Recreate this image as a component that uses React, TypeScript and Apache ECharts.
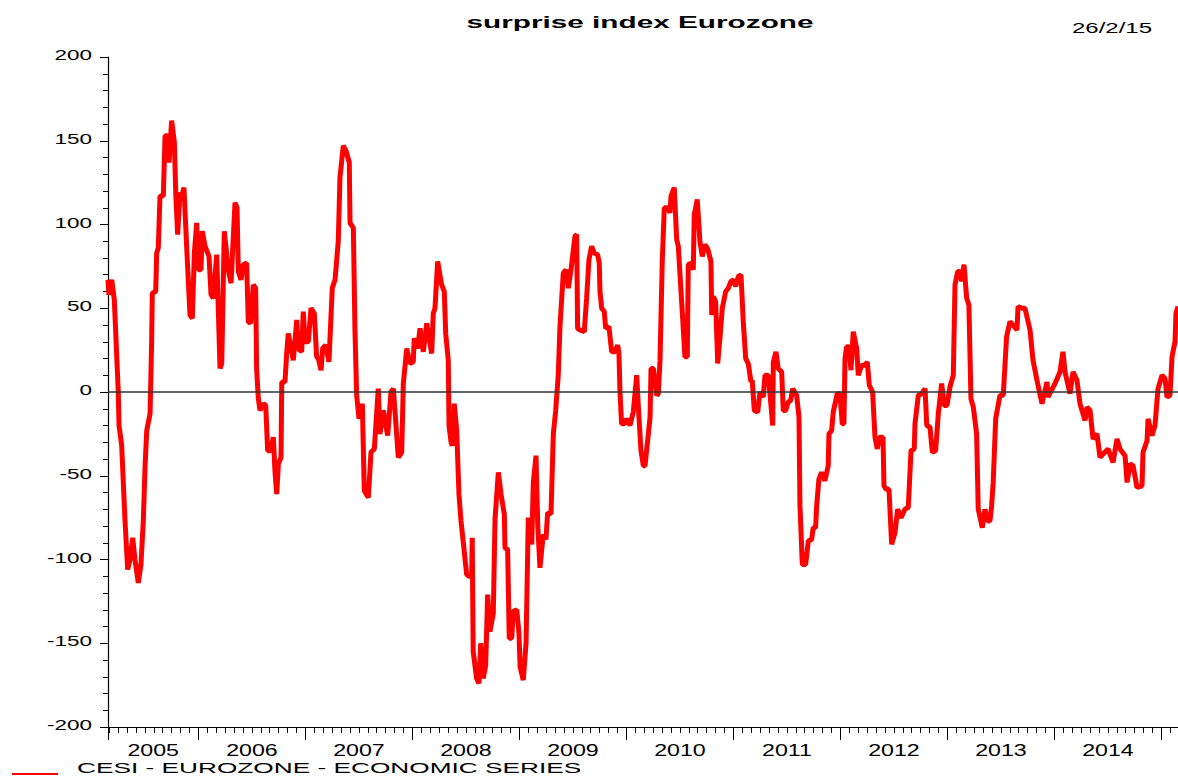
import React, { useEffect, useRef } from "react";
import * as echarts from "echarts";

const TITLE = "surprise index Eurozone";
const DATE_STAMP = "26/2/15";
const SERIES_NAME = "CESI - EUROZONE - ECONOMIC SERIES";

// axis range in decimal years: 26 Feb 2005 .. 26 Feb 2015
const X_MIN = 2005.155;
const X_MAX = 2015.155;
const yearLabels = [2005, 2006, 2007, 2008, 2009, 2010, 2011, 2012, 2013, 2014];
const yTickValues = [200, 150, 100, 50, 0, -50, -100, -150, -200];
const yTickLabels = ["200", "150", "100", "50", "0", "-50", "-100", "-150", "-200"];

// [decimal year, index value]
const cesi2005: [number, number][] = [
  [2005.155, 67], [2005.164, 58], [2005.19, 67], [2005.214, 55], [2005.251, 0], [2005.258, -20],
  [2005.283, -32], [2005.314, -77], [2005.339, -106], [2005.361, -100], [2005.386, -87], [2005.407, -100],
  [2005.438, -114], [2005.463, -103], [2005.485, -77], [2005.501, -45], [2005.517, -23], [2005.548, -13],
  [2005.563, 30], [2005.569, 59], [2005.601, 60], [2005.61, 83], [2005.625, 86], [2005.641, 117],
  [2005.672, 117], [2005.688, 153], [2005.713, 153], [2005.725, 137], [2005.75, 162], [2005.775, 149],
  [2005.788, 119], [2005.806, 94], [2005.828, 119], [2005.844, 117], [2005.865, 122], [2005.89, 87],
  [2005.921, 46], [2005.943, 44], [2005.962, 83], [2005.984, 101], [2005.999, 73],
];
const cesi2006: [number, number][] = [
  [2006.024, 73], [2006.036, 96], [2006.062, 87], [2006.099, 81], [2006.118, 58], [2006.139, 56],
  [2006.171, 82], [2006.202, 14], [2006.218, 17], [2006.242, 96], [2006.279, 73], [2006.305, 65],
  [2006.342, 113], [2006.361, 110], [2006.373, 72], [2006.398, 67], [2006.419, 76], [2006.451, 77],
  [2006.466, 42], [2006.488, 41], [2006.513, 64], [2006.535, 62], [2006.544, 14], [2006.56, -4],
  [2006.576, -11], [2006.606, -7], [2006.629, -8], [2006.647, -35], [2006.675, -35], [2006.7, -27],
  [2006.716, -48], [2006.732, -61], [2006.747, -43], [2006.772, -39], [2006.779, 6], [2006.809, 6],
  [2006.825, 23], [2006.84, 35], [2006.887, 19], [2006.919, 43], [2006.933, 26], [2006.965, 24],
  [2006.98, 48], [2006.996, 30],
];
const cesi2007: [number, number][] = [
  [2007.027, 30], [2007.052, 50], [2007.083, 47], [2007.105, 21], [2007.12, 20], [2007.146, 13],
  [2007.161, 26], [2007.189, 28], [2007.22, 18], [2007.251, 62], [2007.277, 67], [2007.307, 90],
  [2007.323, 128], [2007.354, 147], [2007.379, 144], [2007.41, 137], [2007.417, 101], [2007.448, 98],
  [2007.463, 37], [2007.479, -2], [2007.501, -16], [2007.532, -7], [2007.55, -59], [2007.588, -63],
  [2007.613, -36], [2007.644, -34], [2007.681, 2], [2007.697, -25], [2007.728, -11], [2007.769, -26],
  [2007.8, 0], [2007.822, 2], [2007.868, -39], [2007.9, -36], [2007.915, 5], [2007.947, 26],
  [2007.977, 17],
];
const cesi2008: [number, number][] = [
  [2008.008, 18], [2008.017, 32], [2008.049, 26], [2008.071, 38], [2008.102, 24], [2008.134, 41],
  [2008.18, 23], [2008.195, 47], [2008.211, 50], [2008.236, 78], [2008.273, 64], [2008.298, 60],
  [2008.311, 35], [2008.335, 19], [2008.342, -20], [2008.361, -30], [2008.373, -32], [2008.391, -7],
  [2008.414, -23], [2008.435, -61], [2008.454, -77], [2008.476, -90], [2008.507, -109], [2008.528, -110],
  [2008.554, -110], [2008.559, -87], [2008.568, -155], [2008.6, -171], [2008.622, -174], [2008.638, -150],
  [2008.662, -171], [2008.685, -163], [2008.703, -121], [2008.725, -143], [2008.756, -132], [2008.772, -76],
  [2008.803, -48], [2008.828, -61], [2008.859, -73], [2008.865, -93], [2008.89, -94], [2008.905, -147],
  [2008.928, -147], [2008.943, -131], [2008.975, -130], [2008.996, -144],
];
const cesi2009: [number, number][] = [
  [2009.006, -164], [2009.036, -172], [2009.062, -150], [2009.083, -75], [2009.115, -91], [2009.13, -54],
  [2009.155, -38], [2009.171, -79], [2009.192, -105], [2009.223, -85], [2009.248, -88], [2009.264, -72],
  [2009.295, -73], [2009.317, -25], [2009.339, -11], [2009.363, 10], [2009.379, 39], [2009.41, 71],
  [2009.435, 73], [2009.457, 62], [2009.482, 73], [2009.519, 93], [2009.535, 94], [2009.544, 38],
  [2009.566, 37], [2009.606, 36], [2009.628, 56], [2009.65, 79], [2009.675, 87], [2009.699, 83],
  [2009.731, 82], [2009.746, 77], [2009.753, 60], [2009.769, 50], [2009.793, 48], [2009.806, 38],
  [2009.837, 39], [2009.862, 24], [2009.893, 24], [2009.918, 28], [2009.93, 23], [2009.94, 0],
  [2009.955, -19], [2009.98, -19],
];
const cesi2010: [number, number][] = [
  [2010.003, -16], [2010.033, -20], [2010.064, -12], [2010.096, 10], [2010.111, -8], [2010.136, -35],
  [2010.158, -44], [2010.174, -44], [2010.205, -25], [2010.221, -15], [2010.23, 14], [2010.252, 14],
  [2010.283, -2], [2010.298, -1], [2010.314, 19], [2010.335, 78], [2010.354, 110], [2010.386, 110],
  [2010.407, 107], [2010.417, 117], [2010.447, 122], [2010.47, 91], [2010.485, 87], [2010.517, 53],
  [2010.547, 21], [2010.569, 21], [2010.578, 76], [2010.604, 77], [2010.625, 73], [2010.634, 106],
  [2010.662, 115], [2010.687, 90], [2010.709, 81], [2010.734, 88], [2010.762, 85], [2010.79, 78],
  [2010.797, 46], [2010.812, 57], [2010.834, 54], [2010.853, 17], [2010.874, 32], [2010.896, 50],
  [2010.928, 60], [2010.952, 62], [2010.977, 66], [2010.999, 67],
];
const cesi2011: [number, number][] = [
  [2011.021, 63], [2011.046, 69], [2011.071, 70], [2011.092, 42], [2011.115, 20], [2011.139, 17],
  [2011.164, 6], [2011.176, 7], [2011.195, -11], [2011.227, -12], [2011.248, 0], [2011.279, -3],
  [2011.295, 10], [2011.326, 10], [2011.351, -8], [2011.367, -20], [2011.373, 18], [2011.398, 24],
  [2011.419, 14], [2011.451, 12], [2011.466, -11], [2011.488, -11], [2011.513, -6], [2011.535, -5],
  [2011.554, 2], [2011.591, -2], [2011.613, -15], [2011.622, -68], [2011.644, -103], [2011.675, -103],
  [2011.7, -89], [2011.731, -88], [2011.746, -81], [2011.768, -81], [2011.778, -68], [2011.799, -52],
  [2011.824, -48], [2011.855, -53], [2011.886, -44], [2011.893, -25], [2011.918, -23], [2011.933, -12],
  [2011.97, -1], [2011.995, -1],
];
const cesi2012: [number, number][] = [
  [2012.017, -19], [2012.033, -19], [2012.043, 20], [2012.058, 27], [2012.08, 27], [2012.099, 13],
  [2012.12, 36], [2012.152, 26], [2012.167, 10], [2012.199, 16], [2012.23, 16], [2012.251, 18],
  [2012.27, 4], [2012.301, 0], [2012.323, -27], [2012.345, -34], [2012.363, -27], [2012.398, -27],
  [2012.407, -56], [2012.426, -58], [2012.454, -58], [2012.479, -91], [2012.51, -84], [2012.535, -70],
  [2012.566, -75], [2012.603, -70], [2012.634, -69], [2012.66, -35], [2012.69, -34], [2012.697, -19],
  [2012.728, -2], [2012.76, -1], [2012.791, 2], [2012.807, -20], [2012.837, -21], [2012.859, -36],
  [2012.89, -35], [2012.915, -13], [2012.946, 5], [2012.97, -8], [2012.996, -8],
];
const cesi2013: [number, number][] = [
  [2013.024, 3], [2013.055, 10], [2013.071, 64], [2013.096, 72], [2013.117, 72], [2013.133, 66],
  [2013.155, 76], [2013.18, 56], [2013.201, 52], [2013.22, -4], [2013.242, -9], [2013.273, -25],
  [2013.288, -70], [2013.326, -81], [2013.351, -70], [2013.376, -77], [2013.398, -77], [2013.413, -68],
  [2013.428, -54], [2013.451, -16], [2013.491, -2], [2013.522, -2], [2013.553, 33], [2013.585, 42],
  [2013.65, 37], [2013.66, 51], [2013.697, 50], [2013.725, 50], [2013.772, 37], [2013.8, 19],
  [2013.837, 7], [2013.884, -7], [2013.931, 6], [2013.94, -3],
];
const cesi2014: [number, number][] = [
  [2014.005, 5], [2014.052, 12], [2014.08, 24], [2014.099, 12], [2014.146, -1], [2014.174, 12],
  [2014.211, 7], [2014.239, -7], [2014.286, -17], [2014.305, -9], [2014.333, -11], [2014.361, -28],
  [2014.398, -25], [2014.426, -39], [2014.501, -34], [2014.548, -42], [2014.585, -28], [2014.613, -34],
  [2014.66, -38], [2014.679, -54], [2014.707, -43], [2014.735, -44], [2014.772, -57], [2014.819, -56],
  [2014.828, -36], [2014.866, -29], [2014.875, -16], [2014.912, -26], [2014.94, -20], [2014.968, 2],
];
const cesi2015: [number, number][] = [
  [2015.006, 10], [2015.034, 8], [2015.052, -3], [2015.08, -2], [2015.099, 21], [2015.127, 30],
  [2015.136, 47], [2015.155, 51],
];

const FONT = "'Liberation Sans', Arial, Helvetica, sans-serif";

function txt(text: string, x: number, y: number, font: string, align: string, vAlign: string, scaleX: number) {
  return {
    type: "text",
    x,
    y,
    scaleX,
    silent: true,
    style: {
      text,
      font,
      fill: "#000",
      align,
      textAlign: align,
      verticalAlign: vAlign,
      textVerticalAlign: vAlign,
    },
  };
}

export default function App() {
  const ref = useRef<HTMLDivElement>(null);

  useEffect(() => {
    if (!ref.current) return;
    const chart = echarts.init(ref.current, null, { renderer: "svg" });
    const data = [
      ...cesi2005, ...cesi2006, ...cesi2007, ...cesi2008, ...cesi2009,
      ...cesi2010, ...cesi2011, ...cesi2012, ...cesi2013, ...cesi2014, ...cesi2015,
    ];

    const monthTicks: number[] = [];
    for (let y = 2005; y <= 2015; y++) {
      for (let m = 0; m < 12; m++) {
        const v = y + m / 12;
        if (v > X_MIN && v < X_MAX && m !== 0) monthTicks.push(v);
      }
    }
    const yearTicks: number[] = [X_MIN];
    for (let y = 2006; y <= 2015; y++) yearTicks.push(y);

    chart.setOption({
      animation: false,
      backgroundColor: "#ffffff",
      grid: { left: 108, right: 0, top: 57, bottom: 51, containLabel: false },
      xAxis: [
        {
          type: "value",
          min: X_MIN,
          max: X_MAX,
          position: "bottom",
          axisLine: { show: true, onZero: false, lineStyle: { color: "#000", width: 1.2 } },
          axisTick: { show: true, customValues: monthTicks, length: 6, lineStyle: { color: "#000", width: 1 } },
          axisLabel: { show: false },
          splitLine: { show: false },
        },
        {
          type: "value",
          min: X_MIN,
          max: X_MAX,
          position: "bottom",
          axisLine: { show: false, onZero: false },
          axisTick: { show: true, customValues: yearTicks, length: 13, lineStyle: { color: "#000", width: 1 } },
          axisLabel: { show: false },
          splitLine: { show: false },
        },
      ],
      yAxis: {
        type: "value",
        min: -200,
        max: 200,
        interval: 50,
        axisLine: { show: true, onZero: false, lineStyle: { color: "#000", width: 1.2 } },
        axisTick: { show: true, length: 8, lineStyle: { color: "#000", width: 1 } },
        minorTick: { show: true, splitNumber: 5, length: 5, lineStyle: { color: "#000", width: 1 } },
        axisLabel: { show: false },
        splitLine: { show: false },
        minorSplitLine: { show: false },
      },
      series: [
        {
          type: "line",
          name: SERIES_NAME,
          xAxisIndex: 0,
          yAxisIndex: 0,
          data,
          symbol: "none",
          showSymbol: false,
          lineStyle: { color: "#ff0000", width: 5 },
          itemStyle: { color: "#ff0000" },
          markLine: {
            silent: true,
            symbol: ["none", "none"],
            label: { show: false },
            lineStyle: { color: "#333", width: 1.5, type: "solid" },
            data: [{ yAxis: 0 }],
          },
        },
      ],
    });

    const elements: any[] = [];
    elements.push(txt(TITLE, 640, 22, `bold 17px ${FONT}`, "center", "middle", 1.75));
    elements.push(txt(DATE_STAMP, 1152, 28, `15px ${FONT}`, "right", "middle", 1.6));

    yTickValues.forEach((v, i) => {
      const py = chart.convertToPixel({ yAxisIndex: 0 }, v) as number;
      elements.push(txt(yTickLabels[i], 92, py - 2, `15px ${FONT}`, "right", "middle", 1.5));
    });
    const axisY = chart.convertToPixel({ yAxisIndex: 0 }, -200) as number;
    yearLabels.forEach((yr) => {
      const a = Math.max(yr, X_MIN);
      const b = Math.min(yr + 1, X_MAX);
      const px = chart.convertToPixel({ xAxisIndex: 0 }, (a + b) / 2) as number;
      elements.push(txt(String(yr), px, axisY + 23, `16px ${FONT}`, "center", "middle", 1.45));
    });

    elements.push({
      type: "line",
      silent: true,
      shape: { x1: 12, y1: 774, x2: 58, y2: 774 },
      style: { stroke: "#ff0000", lineWidth: 2 },
    });
    elements.push(txt(SERIES_NAME, 77, 768, `15px ${FONT}`, "left", "middle", 1.75));

    chart.setOption({ graphic: { elements } });

    return () => {
      chart.dispose();
    };
  }, []);

  return (
    <div
      ref={ref}
      style={{ position: "absolute", left: 0, top: 0, width: 1178, height: 778 }}
    />
  );
}
